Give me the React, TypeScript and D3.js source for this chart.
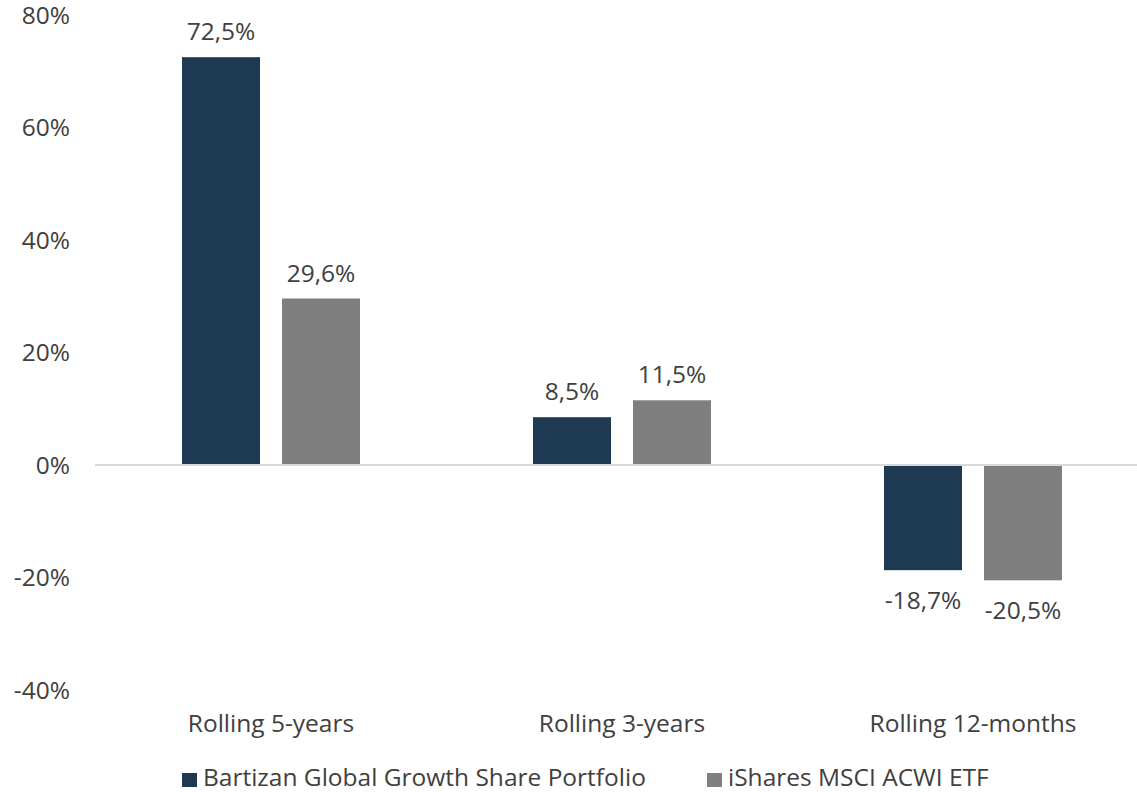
import React from "react";
import * as d3 from "d3";

const categories = ["Rolling 5-years", "Rolling 3-years", "Rolling 12-months"];
const seriesNames = ["Bartizan Global Growth Share Portfolio", "iShares MSCI ACWI ETF"];
const portfolio = [72.5, 8.5, -18.7];
const etf = [29.6, 11.5, -20.5];
const yTicks = [-40, -20, 0, 20, 40, 60, 80];
const colors = ["#1D3A52", "#7F7F7F"];

const W = 1137;
const H = 792;
const FONT = "'Open Sans', 'Liberation Sans', Arial, sans-serif";
const TEXT = "#404040";
const FS = 24.5;

const locale = d3.formatLocale({ decimal: ",", thousands: ".", grouping: [3], currency: ["", ""], minus: "-" });
const fmt1 = locale.format(".1f");

export default function App() {
  const x = d3.scaleBand<string>().domain(categories).range([95.5, 1148.5]).paddingInner(0).paddingOuter(0);
  const inner = d3.scaleBand<number>().domain([0, 1]).range([86.5, 351 - 86.5]).paddingInner(22 / 100);
  const y = d3.scaleLinear().domain([-40, 80]).range([690, 15]);
  const series = [portfolio, etf];

  return (
    <svg width={W} height={H} style={{ position: "absolute", left: 0, top: 0, background: "#fff" }} fontFamily={FONT}>
      {yTicks.map((t) => (
        <text key={t} x={70} y={y(t) + 8.5} textAnchor="end" fontSize={FS} fill={TEXT}>
          {t}%
        </text>
      ))}
      {series.map((vals, si) =>
        vals.map((v, ci) => {
          const bx = (x(categories[ci]) as number) + (inner(si) as number);
          const bw = inner.bandwidth();
          const top = y(Math.max(0, v));
          const bot = y(Math.min(0, v));
          return (
            <g key={`${si}-${ci}`}>
              <rect x={bx} y={top} width={bw} height={bot - top} fill={colors[si]} />
              <text
                x={bx + bw / 2}
                y={v >= 0 ? top - 17 : bot + 39}
                textAnchor="middle"
                fontSize={FS}
                fill={TEXT}
              >
                {fmt1(v)}%
              </text>
            </g>
          );
        })
      )}
      <line x1={95} x2={W} y1={y(0)} y2={y(0)} stroke="#D9D9D9" strokeWidth={2} />
      {categories.map((c) => (
        <text key={c} x={(x(c) as number) + x.bandwidth() / 2} y={732} textAnchor="middle" fontSize={FS} fill={TEXT}>
          {c}
        </text>
      ))}
      {seriesNames.map((n, i) => {
        const lx = i === 0 ? 182 : 707;
        return (
          <g key={n}>
            <rect x={lx} y={773} width={15} height={14} fill={colors[i]} />
            <text x={lx + 21} y={786} fontSize={FS} fill={TEXT}>
              {n}
            </text>
          </g>
        );
      })}
    </svg>
  );
}
